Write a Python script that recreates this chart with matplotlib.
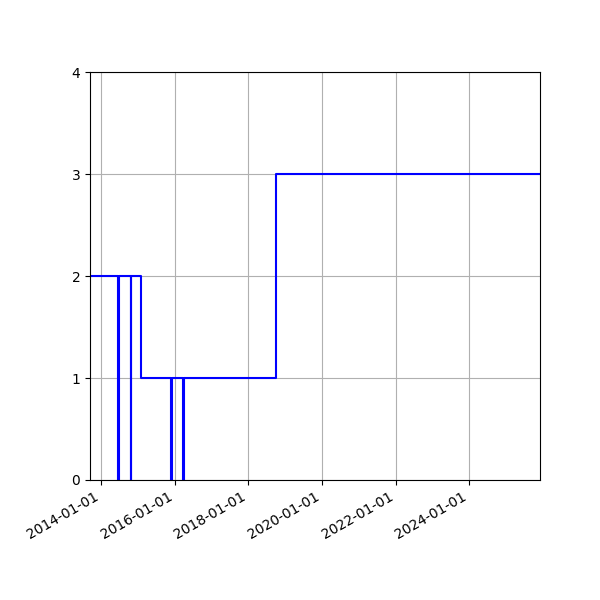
import numpy as np
import pandas as pd
import matplotlib
matplotlib.use('Agg')
import matplotlib.pyplot as plt
import matplotlib.dates as mdates

# step change points (value holds until next date)
dates = ['2013-09-10',
         '2014-06-18', '2014-06-28',
         '2014-10-21', '2014-10-25',
         '2015-02-03',
         '2015-11-26', '2015-12-06',
         '2016-03-18', '2016-03-28',
         '2018-09-27',
         '2025-12-05']
values = [2, 0, 2, 0, 2, 1, 0, 1, 0, 1, 3, 3]

x = pd.to_datetime(dates)

fig, ax = plt.subplots(figsize=(6, 6), dpi=100)
ax.plot(x, values, color='blue', drawstyle='steps-post')
ax.set_xlim(x[0], x[-1])
ax.set_ylim(0, 4)
ax.set_yticks([0, 1, 2, 3, 4])
ax.xaxis.set_major_locator(mdates.YearLocator(2))
ax.xaxis.set_major_formatter(mdates.DateFormatter('%Y-%m-%d'))
ax.grid(True)
fig.autofmt_xdate()
fig.subplots_adjust(left=0.15, right=0.9, top=0.88, bottom=0.2)
fig.savefig('out.png')
